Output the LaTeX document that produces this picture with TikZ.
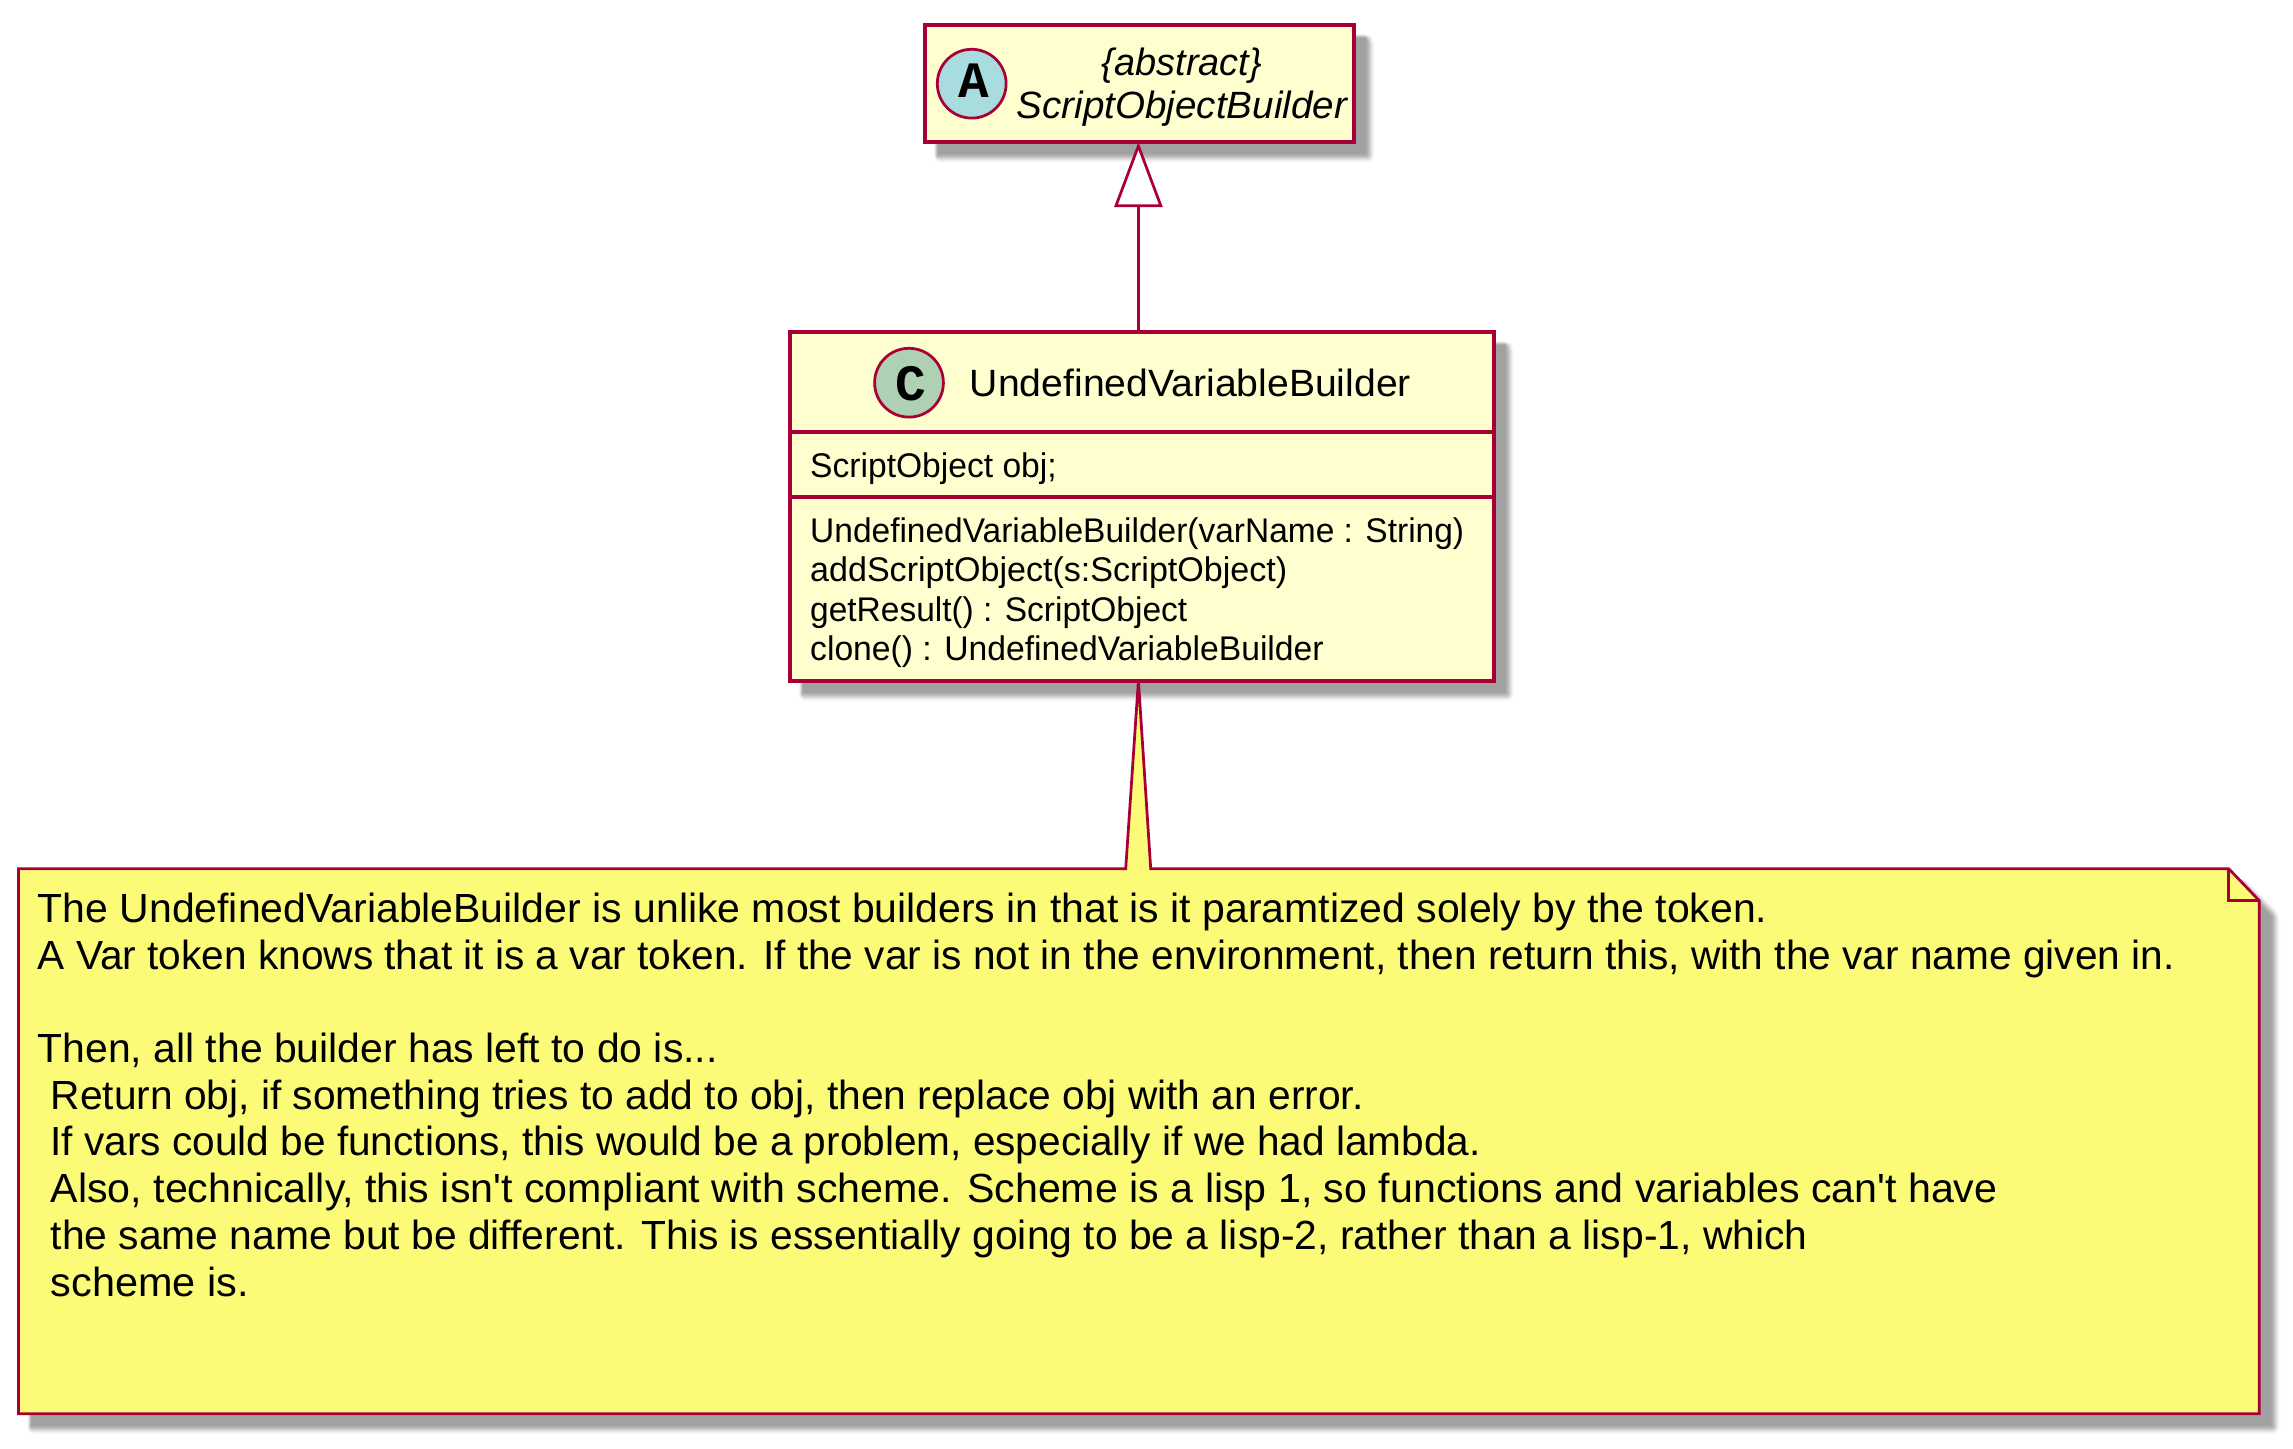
\documentclass[tikz,border=0pt]{standalone}
\usepackage{fontspec}
\usepackage{graphicx}
\setmainfont{Liberation Sans}[Ligatures=TeXOff]
\newfontfamily\monob{Liberation Mono}[BoldFont={Liberation Mono Bold}]
\usetikzlibrary{arrows.meta,calc}
\definecolor{umlred}{HTML}{A80036}
\definecolor{classfill}{HTML}{FEFECE}
\definecolor{notefill}{HTML}{FBFB77}
\definecolor{abstractc}{HTML}{A9DCDF}
\definecolor{classc}{HTML}{ADD1B2}
\pgfdeclarelayer{under}
\pgfsetlayers{under,main}
\newsavebox\fitbox
\newcommand{\fitw}[2]{\sbox\fitbox{#2}\pgfmathsetmacro\fitr{#1/\the\wd\fitbox}\scalebox{\fitr}[1]{\usebox\fitbox}}
% shadow of an outline given by stroke-centre corners, optional folded corner
\newcommand{\softshadow}[5]{%
  \foreach \d in {5,4,...,-5}{%
    \pgfmathsetmacro\tt{(5-\d+1)/11}
    \pgfmathsetmacro\pc{37*\tt*\tt*(3-2*\tt)}
    \pgfmathsetmacro\rc{max(\d+3,0.01)}
    \pgfmathsetmacro\lt{0.5*\d}
    \fill[black!\pc!white,rounded corners=\rc pt]
      (#1+11-\lt,#2+11-\lt) -- (#3+13-#5+0.41*\d,#2+11-\lt)
      -- (#3+16+\d,#2+16+#5-0.41*\d) -- (#3+16+\d,#4+16+\d)
      -- (#1+11-\lt,#4+16+\d) -- cycle;
  }}
\tikzset{
  x=1pt,y=-1pt,
  box/.style={draw=umlred,fill=classfill,line width=4.1pt,inner sep=0pt,outer sep=0pt},
  spot/.style={circle,draw=umlred,line width=2.75pt,inner sep=0pt,outer sep=0pt,minimum size=68.8pt},
  glyph/.style={anchor=base,inner sep=0pt,font=\monob\bfseries\fontsize{51}{51}\selectfont},
  sep/.style={draw=umlred,line width=4.1pt},
  wire/.style={draw=umlred,line width=2.75pt},
  title/.style={anchor=base west,inner sep=0pt,font=\fontsize{38}{38}\selectfont},
  ititle/.style={anchor=base west,inner sep=0pt,font=\itshape\fontsize{38}{38}\selectfont},
  member/.style={anchor=base west,inner sep=0pt,font=\fontsize{34.2}{34.2}\selectfont},
  notetext/.style={anchor=base west,inner sep=0pt,font=\fontsize{40.7}{40.7}\selectfont},
}
\begin{document}
\begin{tikzpicture}
\useasboundingbox (0,0) rectangle (2293,1448);
% abstract class
\node[box,minimum width=429pt,minimum height=117pt] (abs) at (1139.5,83.5) {};
\node[spot,fill=abstractc] (absspot) at (971.7,83.7) {};
\node[glyph] (absglyph) at (973.6,97.7) {A};
\node[ititle] (abst1) at (1101.7,75) {\fitw{160}{\{abstract\}}};
\node[ititle] (abst2) at (1016.7,118.3) {\fitw{330}{ScriptObjectBuilder}};
% concrete class
\node[box,minimum width=703.6pt,minimum height=348.6pt] (cls) at (1141.8,506.3) {};
\draw[sep] (790,432.3) -- (1493.6,432.3);
\draw[sep] (790,497.3) -- (1493.6,497.3);
\node[spot,fill=classc] (clsspot) at (909,382.7) {};
\node[glyph] (clsglyph) at (911,400) {C};
\node[title] (clst) at (969.7,396) {\fitw{441}{UndefinedVariableBuilder}};
\node[member] (f1) at (810,477.7) {\fitw{246.5}{ScriptObject obj;}};
\node[member] (m1) at (810,542.7) {\fitw{654}{UndefinedVariableBuilder(varName : String)}};
\node[member] (m2) at (810,581.5) {\fitw{477}{addScriptObject(s:ScriptObject)}};
\node[member] (m3) at (810,621) {\fitw{377}{getResult() : ScriptObject}};
\node[member] (m4) at (810,660.5) {\fitw{513.5}{clone() : UndefinedVariableBuilder}};
% inheritance
\coordinate (absbot) at (1138.4,0 |- abs.south);
\coordinate (clstop) at (1138.4,0 |- cls.north);
\draw[wire,-{Triangle[open,length=65pt,width=48pt,fill=white]}] (clstop) -- (absbot);
% note
\coordinate (nw) at (18.5,868.7);
\coordinate (wl) at (1125.7,868.7);
\coordinate (wt) at (1138.4,0 |- cls.south);
\coordinate (wr) at (1150.7,868.7);
\coordinate (fa) at (2228.7,868.7);
\coordinate (fb) at (2259.3,900.7);
\coordinate (fc) at (2228.7,900.7);
\coordinate (se) at (2259.3,1413.7);
\coordinate (sw) at (18.5,1413.7);
\begin{pgfonlayer}{under}
\softshadow{925}{25}{1354}{142}{0}
\softshadow{790}{332}{1493.6}{680.6}{0}
\softshadow{18.5}{868.7}{2259.3}{1413.7}{30.6}
\draw[wire,fill=notefill,miter limit=20] (nw) -- (wl) -- (wt) -- (wr) -- (fa) -- (fb) -- (se) -- (sw) -- cycle;
\draw[wire] (fa) -- (fc) -- (fb);
\end{pgfonlayer}
\node[notetext] (n1) at (37.5,922.3) {\fitw{1730}{The UndefinedVariableBuilder is unlike most builders in that is it paramtized solely by the token.}};
\node[notetext] (n2) at (37.5,969) {\fitw{2137}{A Var token knows that it is a var token. If the var is not in the environment, then return this, with the var name given in.}};
\node[notetext] (n4) at (37.5,1062.5) {\fitw{680}{Then, all the builder has left to do is...}};
\node[notetext] (n5) at (50.5,1109.4) {\fitw{1313}{Return obj, if something tries to add to obj, then replace obj with an error.}};
\node[notetext] (n6) at (50.5,1155.8) {\fitw{1430}{If vars could be functions, this would be a problem, especially if we had lambda.}};
\node[notetext] (n7) at (50.5,1202.5) {\fitw{1947}{Also, technically, this isn't compliant with scheme. Scheme is a lisp 1, so functions and variables can't have}};
\node[notetext] (n8) at (50.5,1249.3) {\fitw{1757}{the same name but be different. This is essentially going to be a lisp-2, rather than a lisp-1, which}};
\node[notetext] (n9) at (50.5,1296) {\fitw{198}{scheme is.}};
\end{tikzpicture}
\end{document}
